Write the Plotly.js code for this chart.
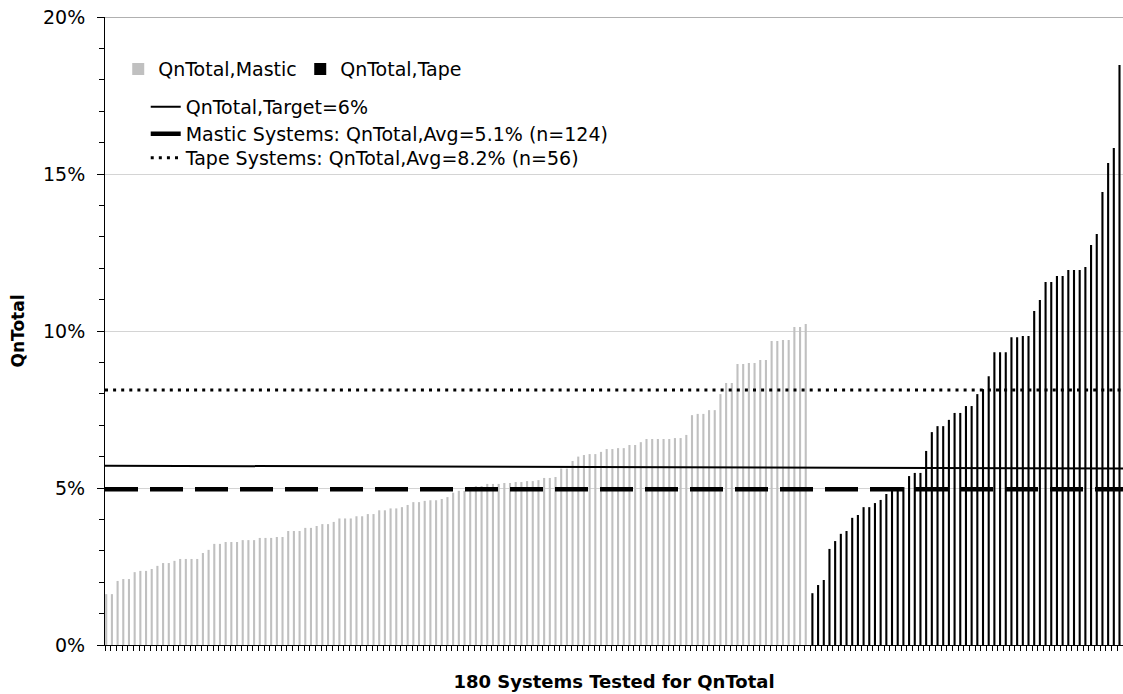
<!DOCTYPE html>
<html>
<head>
<meta charset="utf-8">
<script src="https://cdn.plot.ly/plotly-3.0.1.min.js"></script>
<style>html,body{margin:0;padding:0;background:#fff;}#chart{width:1123px;height:694px;}</style>
</head>
<body>
<div id="chart"></div>
<script>
// QnTotal (%) for mastic-sealed systems, sorted ascending
const masticValues = [
  1.62, 1.62, 2.04, 2.10, 2.10, 2.32, 2.36, 2.36, 2.42, 2.52,
  2.61, 2.61, 2.68, 2.74, 2.74, 2.74, 2.74, 2.93, 3.03, 3.22,
  3.22, 3.28, 3.28, 3.28, 3.34, 3.34, 3.34, 3.41, 3.41, 3.41,
  3.44, 3.44, 3.63, 3.63, 3.63, 3.73, 3.73, 3.79, 3.85, 3.85,
  3.92, 4.03, 4.03, 4.03, 4.10, 4.10, 4.17, 4.17, 4.29, 4.29,
  4.35, 4.35, 4.39, 4.46, 4.55, 4.55, 4.59, 4.61, 4.61, 4.65,
  4.71, 4.85, 4.91, 4.91, 4.99, 5.06, 5.06, 5.13, 5.13, 5.13,
  5.16, 5.16, 5.19, 5.19, 5.22, 5.22, 5.25, 5.32, 5.32, 5.35,
  5.62, 5.62, 5.86, 6.00, 6.05, 6.08, 6.08, 6.15, 6.24, 6.24,
  6.27, 6.27, 6.37, 6.37, 6.46, 6.56, 6.56, 6.56, 6.56, 6.56,
  6.59, 6.59, 6.69, 7.32, 7.36, 7.36, 7.48, 7.48, 7.99, 8.34,
  8.34, 8.95, 8.95, 8.98, 8.98, 9.08, 9.08, 9.68, 9.68, 9.71,
  9.71, 10.13, 10.13, 10.22
];
// QnTotal (%) for tape-sealed systems, sorted ascending
const tapeValues = [
  1.65, 1.91, 2.07, 3.06, 3.31, 3.54, 3.63, 4.05, 4.14, 4.39,
  4.39, 4.52, 4.62, 4.81, 4.97, 5.03, 5.03, 5.38, 5.48, 5.48,
  6.18, 6.78, 6.97, 6.97, 7.17, 7.39, 7.39, 7.61, 7.61, 7.99,
  8.15, 8.56, 9.32, 9.32, 9.32, 9.80, 9.80, 9.84, 9.84, 10.64,
  10.99, 11.56, 11.56, 11.75, 11.75, 11.94, 11.94, 11.94, 12.04, 12.74,
  13.09, 14.43, 15.35, 15.83, 18.47
];
// Reference lines (%), as drawn: start and end values
const targetLine = [5.71, 5.62];
const masticAvgLine = [4.96, 4.96];
const tapeAvgLine = [8.12, 8.12];

const yTickVals = [0, 5, 10, 15, 20];
const yTickText = ['0%', '5%', '10%', '15%', '20%'];

const names = {
  mastic: 'QnTotal,Mastic',
  tape: 'QnTotal,Tape',
  target: 'QnTotal,Target=6%',
  masticAvg: 'Mastic Systems: QnTotal,Avg=5.1% (n=124)',
  tapeAvg: 'Tape Systems: QnTotal,Avg=8.2% (n=56)'
};
const xTitle = '180 Systems Tested for QnTotal';
const yTitle = 'QnTotal';

const nM = masticValues.length;
const nT = tapeValues.length;
const nAll = nM + nT;
const masticX = masticValues.map((_, i) => i);
const tapeX = tapeValues.map((_, i) => nM + i);
const lineX = [-0.5, nAll - 0.5];

const FONT = 'DejaVu Sans, Liberation Sans, Arial, sans-serif';

const traces = [
  {type: 'bar', x: masticX, y: masticValues, name: names.mastic,
   marker: {color: '#c0c0c0', line: {width: 0}}, width: 0.37, offset: -0.47,
   legend: 'legend', hoverinfo: 'y'},
  {type: 'bar', x: tapeX, y: tapeValues, name: names.tape,
   marker: {color: '#000000', line: {width: 0}}, width: 0.37, offset: -0.3,
   legend: 'legend', hoverinfo: 'y'},
  {type: 'scatter', mode: 'lines', x: lineX, y: targetLine, name: names.target,
   line: {color: '#000', width: 2}, legend: 'legend2'},
  {type: 'scatter', mode: 'lines', x: lineX, y: masticAvgLine, name: names.masticAvg,
   line: {color: '#000', width: 4.5, dash: '33px,12px'}, legend: 'legend3'},
  {type: 'scatter', mode: 'lines', x: lineX, y: tapeAvgLine, name: names.tapeAvg,
   line: {color: '#000', width: 3, dash: '3px,5.1px'}, legend: 'legend4'}
];

const legendFont = {family: FONT, size: 19, color: '#000'};
function lineLegend(yc) {
  return {orientation: 'v', x: 0.040, y: yc, xanchor: 'left', yanchor: 'middle',
          bgcolor: 'rgba(0,0,0,0)', font: legendFont};
}

const layout = {
  width: 1123, height: 694,
  margin: {l: 105, r: 0, t: 17, b: 49},
  paper_bgcolor: '#fff', plot_bgcolor: '#fff',
  font: {family: FONT, size: 19, color: '#000'},
  barmode: 'overlay',
  showlegend: true,
  xaxis: {
    range: [-0.5, nAll - 0.5],
    showgrid: false, zeroline: false,
    showline: true, linecolor: '#000', linewidth: 1,
    ticks: 'outside', ticklen: 5, tickwidth: 1, tickcolor: '#000',
    tick0: -0.5, dtick: 1, showticklabels: false,
    title: {text: xTitle, font: {family: FONT, size: 18, weight: 'bold', color: '#000'}, standoff: 25}
  },
  yaxis: {
    range: [0, 20],
    tickvals: yTickVals, ticktext: yTickText,
    showgrid: true, gridcolor: '#d4d4d4', gridwidth: 1,
    zeroline: false,
    showline: true, linecolor: '#000', linewidth: 1,
    ticks: 'outside', ticklen: 7, tickwidth: 1, tickcolor: '#000',
    ticklabelstandoff: 8,
    tickfont: {family: FONT, size: 19, color: '#000'},
    minor: {dtick: 1, ticks: 'outside', ticklen: 5, tickwidth: 1, tickcolor: '#000', showgrid: false},
    title: {text: yTitle, font: {family: FONT, size: 17, weight: 'bold', color: '#000'}, standoff: 14}
  },
  legend: {
    orientation: 'h', x: 0.013, y: 0.917, xanchor: 'left', yanchor: 'middle',
    bgcolor: 'rgba(0,0,0,0)', font: legendFont,
    entrywidth: 137, traceorder: 'normal'
  },
  legend2: lineLegend(0.857),
  legend3: lineLegend(0.814),
  legend4: lineLegend(0.7755),
  shapes: [
    {type: 'line', xref: 'paper', yref: 'y', x0: 0, x1: 1, y0: 20, y1: 20,
     line: {color: '#969696', width: 1.5}, layer: 'above'}
  ]
};

Plotly.newPlot('chart', traces, layout, {staticPlot: true, displayModeBar: false});
</script>
</body>
</html>
